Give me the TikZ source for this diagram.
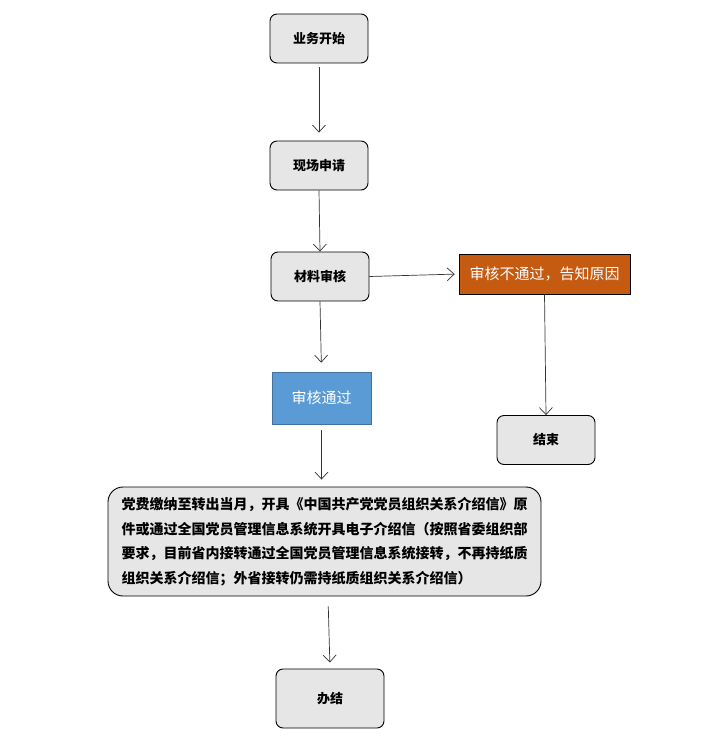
\documentclass[tikz,border=0pt]{standalone}
\usepackage{fontspec}
\setmainfont{Noto Sans CJK SC}
\usetikzlibrary{arrows.meta,positioning}
\definecolor{boxgrey}{RGB}{230,230,230}
\definecolor{failorange}{RGB}{197,90,17}
\definecolor{passblue}{RGB}{91,155,213}
\definecolor{passedge}{RGB}{65,113,156}
\tikzset{
  stepbox/.style={draw=black, line width=0.9pt, fill=boxgrey,
                  minimum width=98pt, minimum height=49pt,
                  rounded corners=7pt, inner sep=4pt, align=center,
                  font=\fontsize{13}{16}\selectfont\bfseries},
  failbox/.style={draw=black, line width=0.7pt, fill=failorange,
                  text=white, minimum width=171pt, minimum height=40pt,
                  inner sep=4pt, align=center,
                  font=\fontsize{15}{18}\selectfont},
  passbox/.style={draw=passedge, line width=0.7pt, fill=passblue,
                  text=white, minimum width=99pt, minimum height=52pt,
                  inner sep=4pt, align=center,
                  font=\fontsize{15}{18}\selectfont},
  notebox/.style={draw=black, line width=0.9pt, fill=boxgrey,
                  minimum width=433pt, minimum height=109pt,
                  rounded corners=15pt, inner sep=6pt, align=left,
                  font=\fontsize{14}{24.5}\selectfont\bfseries},
  flow/.style={-{Straight Barb[length=7pt,width=13pt]}, line width=0.7pt, black!80},
}
\begin{document}
\begin{tikzpicture}[x=1pt,y=-1pt]
  \path[use as bounding box] (0,0) rectangle (725,746);

  \node[stepbox] (start) at (319,38.5) {业务开始};
  \node[stepbox] (apply) at (319,165.5) {现场申请};
  \node[stepbox] (check) at (320,276.5) {材料审核};
  \node[failbox] (reject) at (544.5,274) {审核不通过，告知原因};
  \node[passbox] (pass) at (321.5,398) {审核通过};
  \node[stepbox] (stop) at (546,440) {结束};
  \node[notebox] (issue) at (324.5,541.5)
    {党费缴纳至转出当月，开具《中国共产党党员组织关系介绍信》原\\
     件或通过全国党员管理信息系统开具电子介绍信（按照省委组织部\\
     要求，目前省内接转通过全国党员管理信息系统接转，不再持纸质\\
     组织关系介绍信；外省接转仍需持纸质组织关系介绍信）};
  \node[stepbox, minimum width=108pt, minimum height=59pt] (done) at (330,698.5) {办结};

  \draw[flow, shorten <=4pt, shorten >=8pt] (start.south) -- (apply.north);
  \draw[flow] (apply.south) -- (check.north);
  \draw[flow, shorten >=4pt] (check.east) -- (reject.west);
  \draw[flow, shorten >=9pt] (check.south) -- (pass.north);
  \draw[flow] (reject.south) -- (stop.north);
  \draw[flow, shorten <=6pt, shorten >=7pt] (pass.south) -- (pass.south |- issue.north);
  \draw[flow, shorten <=10pt, shorten >=6pt] (issue.south -| done.north) ++(-2,0) -- (done.north);
\end{tikzpicture}
\end{document}
